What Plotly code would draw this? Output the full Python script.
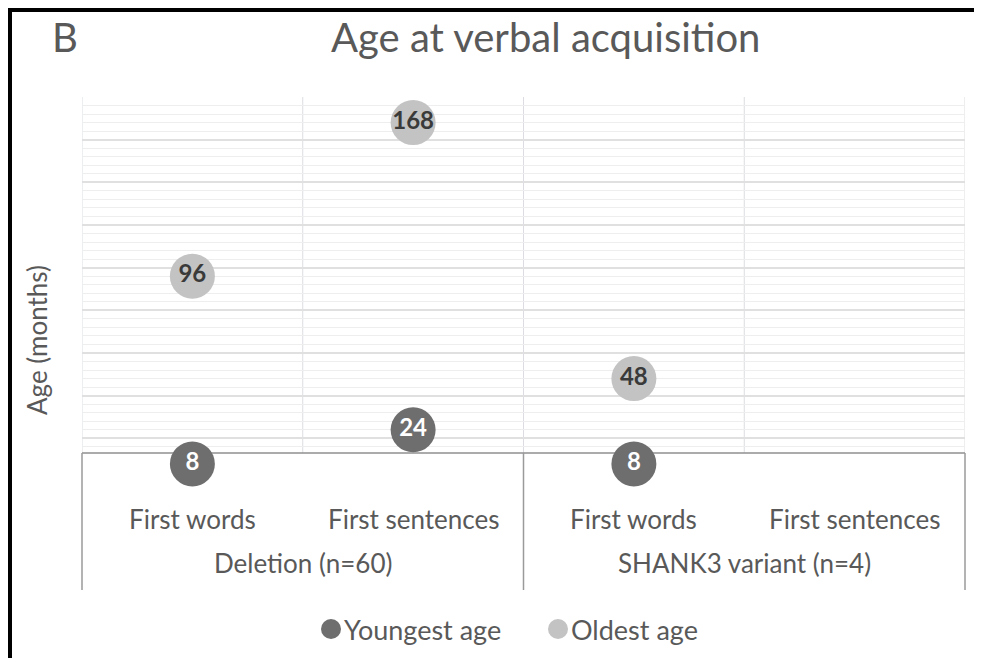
import plotly.graph_objects as go

# ---- data ----
categories = ["First words", "First sentences", "First words", "First sentences"]
groups = ["Deletion (n=60)", "SHANK3 variant (n=4)"]
youngest = [8, 24, 8, None]
oldest = [96, 168, 48, None]
series_names = ["Youngest age", "Oldest age"]
y_max = 180

W, H = 982, 658
OFF = 8  # default page body margin: figure origin sits at (8, 8) in the window
# layout positions measured in window pixels
L, R, T, B = 82, 965, 97, 481  # plot area (value 0 at B)
AXIS_PY = 453                  # category axis line
FONT = "Lato"
GRAY_TXT = "#595959"
DARK = "#6e6e6e"
LIGHT = "#c3c3c3"
TXT = 26

def px2x(px):
    return (px - L) / (R - L)

def py2y(py):
    return (B - py) / (B - T)

grid_dom = py2y(AXIS_PY)
axis_cross = y_max * grid_dom

xpos = [i + 0.5 for i in range(len(categories))]

fig = go.Figure()
# empty trace so the grid subplot is created
fig.add_trace(go.Scatter(x=[None], y=[None], yaxis="y", showlegend=False, hoverinfo="skip"))

def add_series(vals, color, txtcolor, name):
    xs = [x for x, v in zip(xpos, vals) if v is not None]
    ys = [v for v in vals if v is not None]
    fig.add_trace(go.Scatter(
        x=xs, y=ys, name=name, mode="markers+text", yaxis="y2",
        text=[str(v) for v in ys], textposition="middle center",
        textfont=dict(family=FONT, size=24, color=txtcolor, weight="bold"),
        marker=dict(size=45, color=color, line=dict(width=0)),
        cliponaxis=False, showlegend=False, hoverinfo="skip",
    ))

add_series(oldest, LIGHT, "#3a3a3a", series_names[1])
add_series(youngest, DARK, "#ffffff", series_names[0])

shapes = []
# vertical category separators inside plot
for xv in range(len(categories) + 1):
    shapes.append(dict(type="line", xref="x", yref="paper", x0=xv, x1=xv,
                       y0=grid_dom, y1=1, line=dict(color="#dcdde2", width=1), layer="below"))
# category axis line
shapes.append(dict(type="line", xref="paper", yref="paper", x0=0, x1=1, y0=grid_dom, y1=grid_dom,
                   line=dict(color="#8f8f8f", width=1.5), layer="below"))
# group separator lines in axis area
for px in (L, (L + R) / 2, R):
    shapes.append(dict(type="line", xref="paper", yref="paper", x0=px2x(px), x1=px2x(px),
                       y0=grid_dom, y1=py2y(590), line=dict(color="#9a9a9a", width=1.5),
                       layer="below"))
# frame bars (top and left) - visible part inside the figure
shapes.append(dict(type="rect", xref="paper", yref="paper", x0=px2x(OFF - 2), x1=px2x(W + OFF),
                   y0=py2y(12), y1=py2y(OFF - 2), fillcolor="#000000", line=dict(width=0)))
shapes.append(dict(type="rect", xref="paper", yref="paper", x0=px2x(OFF - 2), x1=px2x(12),
                   y0=py2y(H + OFF), y1=py2y(OFF - 2), fillcolor="#000000", line=dict(width=0)))

# legend (manual)
leg = [(331, DARK, series_names[0]), (558, LIGHT, series_names[1])]
annotations = []
for cx, col, name in leg:
    shapes.append(dict(type="circle", xref="paper", yref="paper",
                       xsizemode="pixel", ysizemode="pixel",
                       xanchor=px2x(cx), yanchor=py2y(629),
                       x0=-10, x1=10, y0=-10, y1=10,
                       fillcolor=col, line=dict(width=0)))
    annotations.append(dict(x=px2x(cx + 11), y=py2y(629), xref="paper", yref="paper",
                            text=name, showarrow=False, xanchor="left", yanchor="middle",
                            font=dict(family=FONT, size=27, color=GRAY_TXT)))

# category labels
for x, c in zip(xpos, categories):
    annotations.append(dict(x=x, y=py2y(519), xref="x", yref="paper", text=c,
                            showarrow=False, xanchor="center", yanchor="middle",
                            font=dict(family=FONT, size=TXT, color=GRAY_TXT)))
# group labels
for gi, g in enumerate(groups):
    annotations.append(dict(x=2 * gi + 1, y=py2y(563), xref="x", yref="paper", text=g,
                            showarrow=False, xanchor="center", yanchor="middle",
                            font=dict(family=FONT, size=TXT, color=GRAY_TXT)))

# title and panel letter
annotations.append(dict(x=px2x(545), y=py2y(37), xref="paper", yref="paper",
                        text="Age at verbal acquisition", showarrow=False,
                        xanchor="center", yanchor="middle",
                        font=dict(family=FONT, size=40, color=GRAY_TXT)))
annotations.append(dict(x=px2x(65), y=py2y(37), xref="paper", yref="paper",
                        text="B", showarrow=False, xanchor="center", yanchor="middle",
                        font=dict(family=FONT, size=40, color=GRAY_TXT)))
# y axis title
annotations.append(dict(x=px2x(37), y=py2y(340), xref="paper", yref="paper",
                        text="Age (months)", showarrow=False, textangle=-90,
                        xanchor="center", yanchor="middle",
                        font=dict(family=FONT, size=TXT, color=GRAY_TXT)))

fig.update_layout(
    width=W, height=H,
    margin=dict(l=L - OFF, r=W - (R - OFF), t=T - OFF, b=H - (B - OFF)),
    paper_bgcolor="white", plot_bgcolor="rgba(0,0,0,0)",
    shapes=shapes, annotations=annotations, showlegend=False,
    xaxis=dict(range=[0, len(categories)], showgrid=False, showticklabels=False,
               zeroline=False, ticks="", showline=False, fixedrange=True),
    # grid axis: spans from the category axis line to the top
    yaxis=dict(domain=[grid_dom, 1], range=[axis_cross, y_max], tick0=0, dtick=20,
               showgrid=True, gridcolor="#e0e0e0", gridwidth=2, showticklabels=False,
               zeroline=False, ticks="", showline=False, fixedrange=True,
               minor=dict(tick0=0, dtick=4, showgrid=True, gridcolor="#eeeeee", gridwidth=1)),
    # data axis: full height, value 0 at bottom
    yaxis2=dict(domain=[0, 1], range=[0, y_max], anchor="x", showgrid=False,
                showticklabels=False, zeroline=False, ticks="", showline=False,
                fixedrange=True),
)

fig.write_html("out.html", config={"displayModeBar": False})
